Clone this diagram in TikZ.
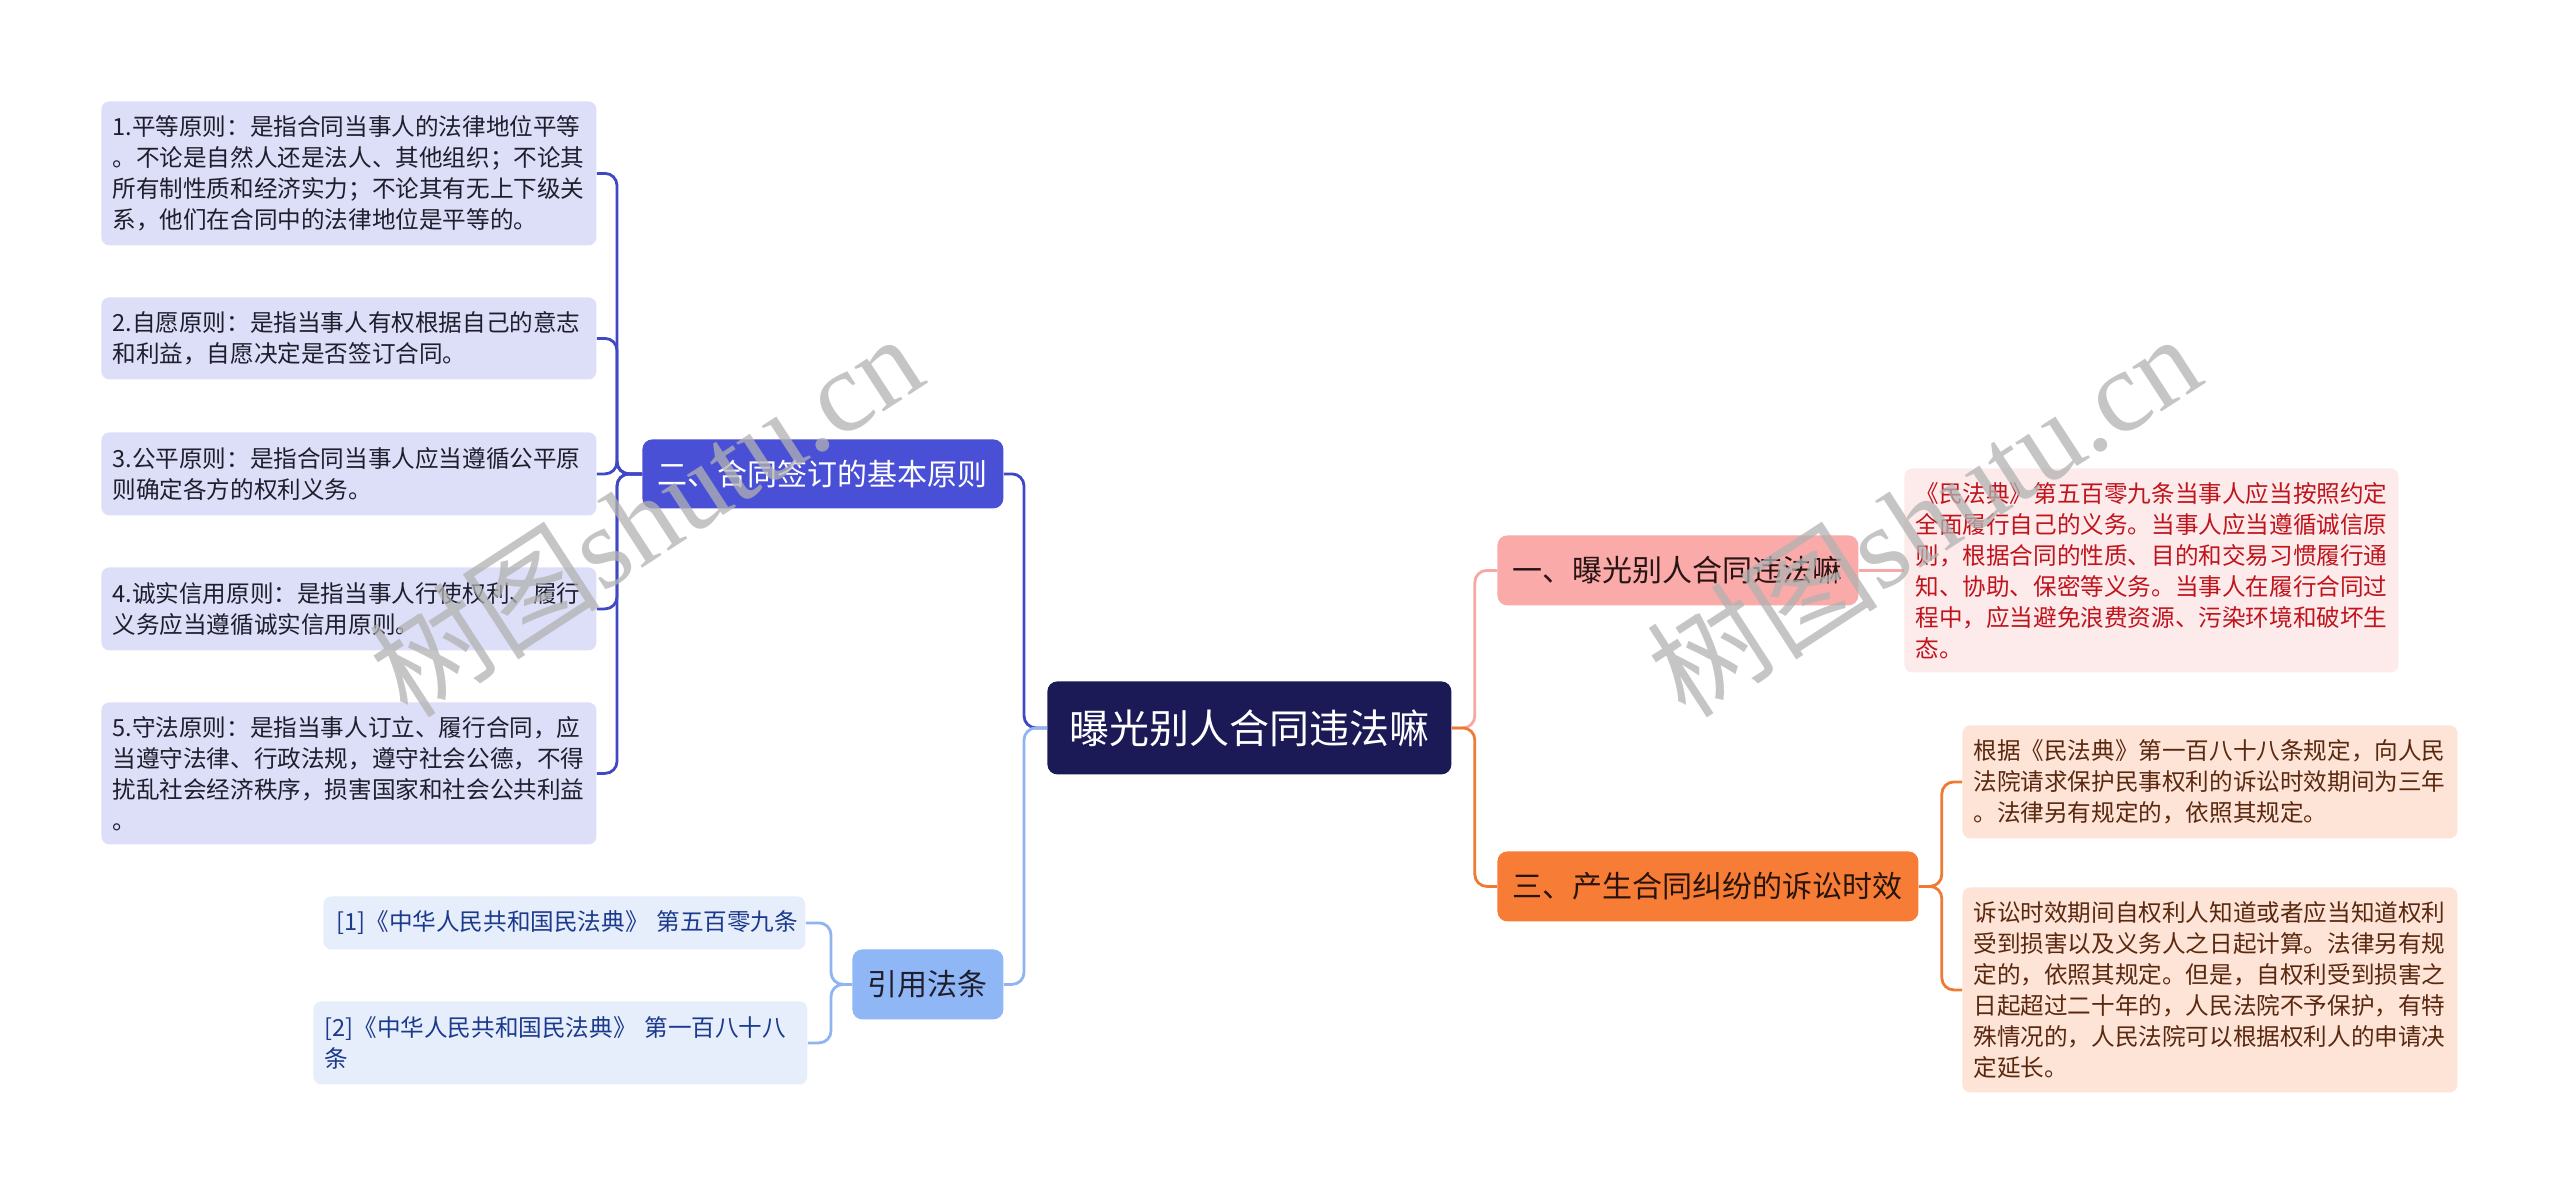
\documentclass[tikz,border=0pt]{standalone}
\usepackage{fontspec}
\setmainfont{Noto Sans CJK SC}
\newfontfamily\wmcjk{Noto Sans CJK SC}
\newfontfamily\wmlat{Liberation Serif}
\definecolor{rootfill}{RGB}{27,25,86}
\definecolor{erfill}{RGB}{74,80,214}
\definecolor{erline}{RGB}{64,72,196}
\definecolor{lavfill}{RGB}{221,222,248}
\definecolor{lavtext}{RGB}{30,30,45}
\definecolor{yyfill}{RGB}{143,182,245}
\definecolor{yyline}{RGB}{143,180,240}
\definecolor{reffill}{RGB}{230,238,252}
\definecolor{reftext}{RGB}{28,58,140}
\definecolor{yifill}{RGB}{250,170,168}
\definecolor{yiline}{RGB}{246,168,166}
\definecolor{yitext}{RGB}{40,20,20}
\definecolor{r1fill}{RGB}{253,234,235}
\definecolor{r1text}{RGB}{192,20,28}
\definecolor{sanfill}{RGB}{247,125,55}
\definecolor{sanline}{RGB}{238,122,54}
\definecolor{santext}{RGB}{40,20,10}
\definecolor{sfill}{RGB}{253,228,215}
\definecolor{stext}{RGB}{90,40,15}
\newcommand\leaffont{\fontsize{11.8pt}{15.5pt}\selectfont}
\newcommand\midfont{\fontsize{15pt}{18pt}\selectfont}
\newcommand\rootfont{\fontsize{20pt}{24pt}\selectfont}
\tikzset{
  leafbox/.style={rounded corners=4pt, inner xsep=5.5pt, inner ysep=0pt, anchor=north west, align=left, font=\leaffont},
  midbox/.style={rounded corners=5pt, inner sep=0pt, anchor=north west, align=center, font=\midfont},
  conn/.style={rounded corners=6pt, line width=1.4pt},
  wm/.style={text=black!30, opacity=0.75, rotate=33, font=\fontsize{58pt}{60pt}\selectfont, inner sep=0pt},
}
\begin{document}
\begin{tikzpicture}[x=0.5pt,y=-0.5pt]
\useasboundingbox[fill=white] (0,0) rectangle (2560,1195);

% root
\node[midbox, fill=rootfill, text=white, font=\rootfont, minimum width=202pt, minimum height=46.5pt] (root) at (1047,681) {曝光别人合同违法嘛};

% left main branches
\node[midbox, fill=erfill, text=white, minimum width=180.5pt, minimum height=34.5pt] (er) at (642,439) {二、合同签订的基本原则};
\node[midbox, fill=yyfill, text=lavtext, minimum width=75.5pt, minimum height=35pt] (yy) at (852,949) {引用法条};

% right main branches
\node[midbox, fill=yifill, text=yitext, minimum width=180.5pt, minimum height=35pt] (yi) at (1497,535) {一、曝光别人合同违法嘛};
\node[midbox, fill=sanfill, text=santext, minimum width=210.5pt, minimum height=35pt] (san) at (1497,851) {三、产生合同纠纷的诉讼时效};

% principle leaves
\node[leafbox, fill=lavfill, text=lavtext, text width=236.5pt, minimum height=72pt] (l1) at (101,101)
 {1.平等原则：是指合同当事人的法律地位平等\\。不论是自然人还是法人、其他组织；不论其\\所有制性质和经济实力；不论其有无上下级关\\系，他们在合同中的法律地位是平等的。};
\node[leafbox, fill=lavfill, text=lavtext, text width=236.5pt, minimum height=41pt] (l2) at (101,297)
 {2.自愿原则：是指当事人有权根据自己的意志\\和利益，自愿决定是否签订合同。};
\node[leafbox, fill=lavfill, text=lavtext, text width=236.5pt, minimum height=41.5pt] (l3) at (101,432)
 {3.公平原则：是指合同当事人应当遵循公平原\\则确定各方的权利义务。};
\node[leafbox, fill=lavfill, text=lavtext, text width=236.5pt, minimum height=41.5pt] (l4) at (101,567)
 {4.诚实信用原则：是指当事人行使权利、履行\\义务应当遵循诚实信用原则。};
\node[leafbox, fill=lavfill, text=lavtext, text width=236.5pt, minimum height=71pt] (l5) at (101,702)
 {5.守法原则：是指当事人订立、履行合同，应\\当遵守法律、行政法规，遵守社会公德，不得\\扰乱社会经济秩序，损害国家和社会公共利益\\。};

% references
\node[leafbox, inner xsep=6.5pt, fill=reffill, text=reftext, text width=228pt, minimum height=26.5pt] (ref1) at (323,896)
 {[1]《中华人民共和国民法典》~第五百零九条};
\node[leafbox, inner xsep=5.5pt, fill=reffill, text=reftext, text width=236pt, minimum height=41.5pt] (ref2) at (313,1001)
 {[2]《中华人民共和国民法典》~第一百八十八\\条};

% right leaves
\node[leafbox, fill=r1fill, text=r1text, text width=236pt, minimum height=102pt] (r1) at (1904,468)
 {《民法典》第五百零九条当事人应当按照约定\\全面履行自己的义务。当事人应当遵循诚信原\\则，根据合同的性质、目的和交易习惯履行通\\知、协助、保密等义务。当事人在履行合同过\\程中，应当避免浪费资源、污染环境和破坏生\\态。};
\node[leafbox, fill=sfill, text=stext, text width=236.5pt, minimum height=56.5pt] (s1) at (1962,725)
 {根据《民法典》第一百八十八条规定，向人民\\法院请求保护民事权利的诉讼时效期间为三年\\。法律另有规定的，依照其规定。};
\node[leafbox, fill=sfill, text=stext, text width=236.5pt, minimum height=102.5pt] (s2) at (1962,887)
 {诉讼时效期间自权利人知道或者应当知道权利\\受到损害以及义务人之日起计算。法律另有规\\定的，依照其规定。但是，自权利受到损害之\\日起超过二十年的，人民法院不予保护，有特\\殊情况的，人民法院可以根据权利人的申请决\\定延长。};

% connectors: root to main branches
\draw[conn, draw=erline] (root.west) -- ++(-23,0) |- (er.east);
\draw[conn, draw=yyline] (root.west) -- ++(-23,0) |- (yy.east);
\draw[conn, draw=yiline] (root.east) -- ++(23,0) |- (yi.west);
\draw[conn, draw=sanline] (root.east) -- ++(23,0) |- (san.west);

% er to leaves
\foreach \n in {l1,l2,l3,l4,l5}
  \draw[conn, draw=erline] (er.west) -- ++(-25,0) |- (\n.east);
% yy to refs
\foreach \n in {ref1,ref2}
  \draw[conn, draw=yyline] (yy.west) -- ++(-21,0) |- (\n.east);
% yi to r1
\draw[conn, draw=yiline] (yi.east) -- (r1.west);
% san to leaves
\foreach \n in {s1,s2}
  \draw[conn, draw=sanline] (san.east) -- ++(23,0) |- (\n.west);

% watermarks
\node[wm] (wm1) at (645,514) {{\wmcjk 树图}{\wmlat shutu.cn}};
\node[wm] (wm2) at (1923,514) {{\wmcjk 树图}{\wmlat shutu.cn}};
\end{tikzpicture}
\end{document}
